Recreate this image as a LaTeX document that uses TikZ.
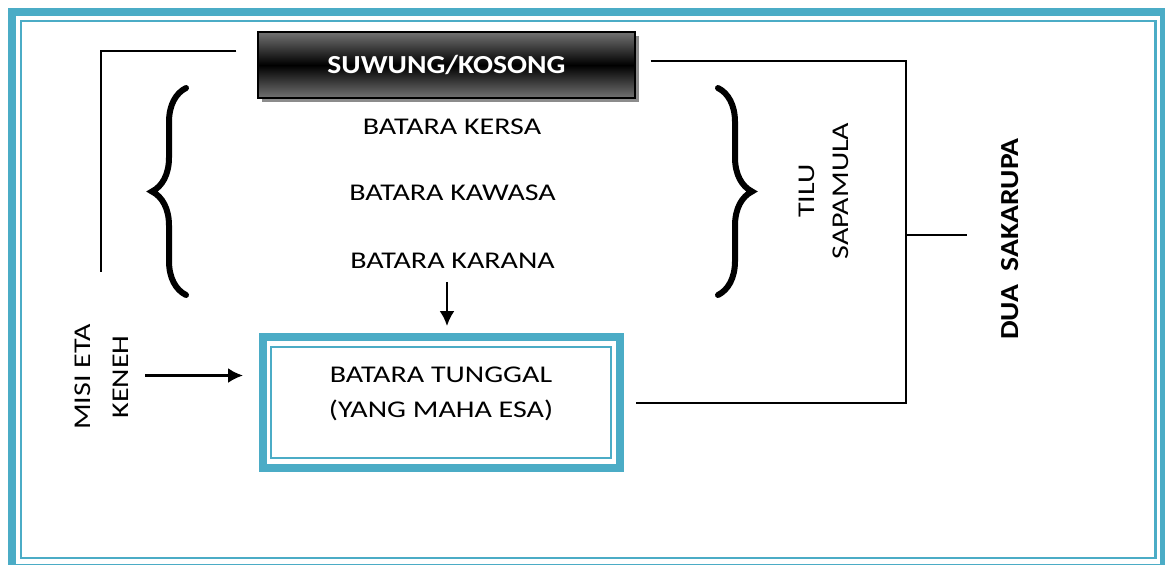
\documentclass[tikz,border=0pt]{standalone}
\usepackage{fontspec}
\setmainfont{Carlito}[FakeStretch=1.25, BoldFeatures={FakeStretch=1.14}]
\usetikzlibrary{positioning,arrows.meta,shadows,decorations.pathreplacing}
\definecolor{framecyan}{HTML}{4BACC6}
\tikzset{
    wire/.style={line width=1pt},
    feed/.style={line width=1.2pt, -{Latex[length=7.5pt,width=7.5pt]}},
    curly/.style={line width=3pt, line cap=round, decorate, decoration={brace, amplitude=17pt}},
    plaintext/.style={font=\fontsize{12}{17.5}\selectfont, align=center},
    boldtext/.style={font=\fontsize{13}{17}\selectfont\bfseries, align=center},
}

\begin{document}
\begin{tikzpicture}[x=0.5pt,y=-0.5pt]
        \useasboundingbox (0,0) rectangle (1165,564);
        % page frame
        \draw[framecyan, line width=4pt] (12,12) rectangle (1164,568);
        \draw[framecyan, line width=1.2pt] (21,21) rectangle (1155.5,558);

        \node[boldtext, text=white, draw=black, line width=0.7pt,
              minimum width=188.5pt, minimum height=33pt,
              top color=black!55, bottom color=black!55, middle color=black,
              drop shadow={shadow xshift=2pt, shadow yshift=-2pt, fill=black!45, opacity=1}]
              (suwung) at (446.5,65) {SUWUNG/KOSONG};

        \node[plaintext] (kersa) at (452,127) {BATARA KERSA};
        \node[plaintext] (kawasa) at (452.5,193) {BATARA KAWASA};
        \node[plaintext] (karana) at (452.5,261) {BATARA KARANA};

        \draw[curly] (186,295) -- (186,88);
        \draw[curly] (718,88) -- (718,295);

        % the double cyan box
        \node[draw=framecyan, line width=1pt, minimum width=170pt, minimum height=55.5pt]
              (tunggal) at (441,402.5) {};
        \draw[framecyan, line width=4pt] ([xshift=-3.5pt,yshift=4.3pt]tunggal.north west)
              rectangle ([xshift=3.8pt,yshift=-4.6pt]tunggal.south east);
        \node[plaintext] (tunggaltext) at ([yshift=4.25pt]tunggal.center) {BATARA TUNGGAL\\(YANG MAHA ESA)};

        \node[plaintext, font=\fontsize{12}{18.75}\selectfont, rotate=90] (misi) at (101.5,377) {MISI ETA\\KENEH};
        \node[plaintext, font=\fontsize{12}{17.25}\selectfont, rotate=90] (tilu) at (824,191) {TILU\\SAPAMULA};
        \node[boldtext, rotate=90] (dua) at (1010,239) {DUA~~SAKARUPA};

        \coordinate (leftend) at (101,272);
        \coordinate (rail) at (906,235);
        \coordinate (railtip) at (967,235);

        \draw[wire] ([xshift=-10.5pt,yshift=7pt]suwung.west) -| (leftend);
        \draw[wire] ([xshift=7.5pt,yshift=2pt]suwung.east) -| (rail) |- ([xshift=12pt]tunggal.east);
        \draw[wire] (rail) -- (railtip);

        \draw[feed, shorten <=3pt, shorten >=10pt] ([xshift=-2.75pt]karana.south) -- ([xshift=-2.75pt]karana.south |- tunggal.north);
        \draw[feed, shorten <=5pt, shorten >=13.5pt] ([yshift=0.75pt]misi.south) -- ([yshift=0.75pt]misi.south -| tunggal.west);
\end{tikzpicture}
\end{document}
